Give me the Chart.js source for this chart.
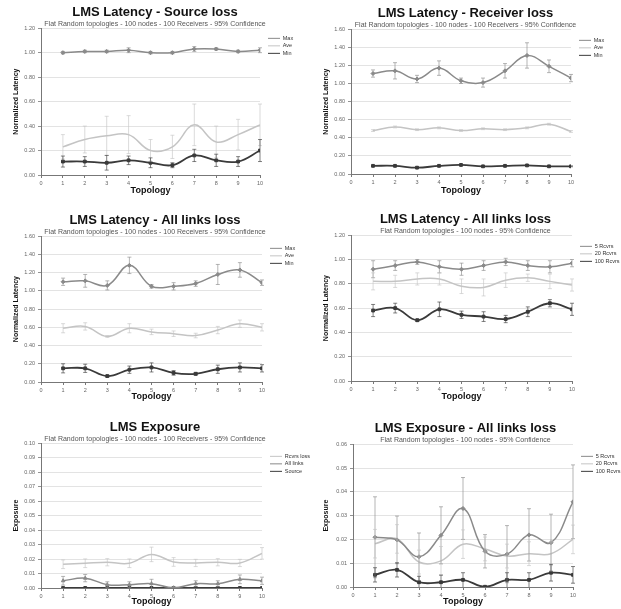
<!DOCTYPE html>
<html>
<head>
<meta charset="utf-8">
<script src="https://cdn.jsdelivr.net/npm/chart.js@4"></script>
<style>
body{margin:0;background:#fff;}
#wrap{position:relative;width:621px;height:609px;overflow:hidden;}
.p{position:absolute;}
</style>
</head>
<body>
<div id="wrap">
  <div class="p" style="left:0;top:0;width:310px;height:200px"><canvas id="c1"></canvas></div>
  <div class="p" style="left:310px;top:0;width:311px;height:200px"><canvas id="c2"></canvas></div>
  <div class="p" style="left:0;top:200px;width:310px;height:205px"><canvas id="c3"></canvas></div>
  <div class="p" style="left:310px;top:200px;width:311px;height:205px"><canvas id="c4"></canvas></div>
  <div class="p" style="left:0;top:400px;width:310px;height:209px"><canvas id="c5"></canvas></div>
  <div class="p" style="left:310px;top:400px;width:311px;height:209px"><canvas id="c6"></canvas></div>
</div>
<script>
// topology index on the x axis
const topology = [1, 2, 3, 4, 5, 6, 7, 8, 9, 10];

// LMS Latency - Source loss
const srcMax    = [1.00, 1.01, 1.01, 1.02, 1.00, 1.00, 1.03, 1.03, 1.01, 1.02];
const srcMaxErr = [0.01, 0.01, 0.01, 0.02, 0.01, 0.01, 0.02, 0.01, 0.01, 0.02];
const srcAve    = [0.23, 0.29, 0.32, 0.33, 0.20, 0.23, 0.41, 0.27, 0.33, 0.41];
const srcAveErr = [0.10, 0.11, 0.16, 0.155, 0.09, 0.095, 0.17, 0.13, 0.125, 0.17];
const srcMin    = [0.11, 0.11, 0.10, 0.12, 0.10, 0.08, 0.16, 0.12, 0.11, 0.20];
const srcMinErr = [0.045, 0.04, 0.06, 0.035, 0.04, 0.02, 0.05, 0.05, 0.04, 0.09];

// LMS Latency - Receiver loss
const rcvMax    = [1.11, 1.14, 1.05, 1.17, 1.03, 1.01, 1.14, 1.31, 1.19, 1.06];
const rcvMaxErr = [0.04, 0.09, 0.04, 0.08, 0.03, 0.05, 0.08, 0.14, 0.07, 0.04];
const rcvAve    = [0.48, 0.52, 0.49, 0.51, 0.48, 0.50, 0.49, 0.51, 0.55, 0.47];
const rcvAveErr = [0.01, 0.01, 0.01, 0.01, 0.01, 0.01, 0.01, 0.01, 0.01, 0.01];
const rcvMin    = [0.09, 0.09, 0.07, 0.09, 0.10, 0.085, 0.09, 0.095, 0.085, 0.085];
const rcvMinErr = [0.005, 0.005, 0.005, 0.005, 0.005, 0.005, 0.005, 0.005, 0.005, 0.005];

// LMS Latency - All links loss (Max/Ave/Min)
const allMax    = [1.10, 1.11, 1.06, 1.28, 1.05, 1.05, 1.08, 1.18, 1.23, 1.09];
const allMaxErr = [0.04, 0.07, 0.05, 0.09, 0.02, 0.04, 0.03, 0.11, 0.08, 0.03];
const allAve    = [0.59, 0.61, 0.50, 0.59, 0.55, 0.53, 0.51, 0.57, 0.64, 0.60];
const allAveErr = [0.05, 0.04, 0.01, 0.05, 0.03, 0.03, 0.025, 0.04, 0.04, 0.04];
const allMin    = [0.15, 0.15, 0.065, 0.135, 0.16, 0.10, 0.09, 0.14, 0.16, 0.15];
const allMinErr = [0.05, 0.045, 0.01, 0.04, 0.05, 0.025, 0.015, 0.045, 0.05, 0.04];

// LMS Latency - All links loss (receiver counts)
const lat5      = [0.92, 0.95, 0.98, 0.94, 0.92, 0.95, 0.98, 0.95, 0.94, 0.97];
const lat5Err   = [0.07, 0.04, 0.02, 0.05, 0.05, 0.04, 0.03, 0.04, 0.05, 0.03];
const lat20     = [0.82, 0.82, 0.84, 0.84, 0.78, 0.77, 0.83, 0.85, 0.82, 0.79];
const lat20Err  = [0.07, 0.05, 0.05, 0.05, 0.06, 0.07, 0.06, 0.03, 0.06, 0.05];
const lat100    = [0.58, 0.60, 0.50, 0.59, 0.545, 0.53, 0.51, 0.57, 0.64, 0.59];
const lat100Err = [0.05, 0.04, 0.01, 0.06, 0.03, 0.04, 0.03, 0.04, 0.03, 0.05];

// LMS Exposure
const expRcv    = [0.0164, 0.0171, 0.0178, 0.0171, 0.0232, 0.0180, 0.0173, 0.0178, 0.0173, 0.0239];
const expRcvErr = [0.003, 0.003, 0.0025, 0.003, 0.005, 0.003, 0.0025, 0.0025, 0.0025, 0.004];
const expAll    = [0.0050, 0.0068, 0.0023, 0.0023, 0.0030, 0.0002, 0.0030, 0.0030, 0.0060, 0.0050];
const expAllErr = [0.003, 0.0025, 0.002, 0.002, 0.003, 0.0005, 0.002, 0.002, 0.003, 0.0025];
const expSrc    = [0, 0, 0, 0, 0, 0, 0, 0, 0, 0];

// LMS Exposure - All links loss
const exp5      = [0.0209, 0.0198, 0.0127, 0.0217, 0.0330, 0.0150, 0.0138, 0.0219, 0.0186, 0.0358];
const exp5Err   = [0.017, 0.010, 0.010, 0.012, 0.013, 0.007, 0.012, 0.011, 0.012, 0.0155];
const exp20     = [0.0182, 0.0202, 0.0105, 0.0110, 0.0180, 0.0160, 0.0130, 0.0140, 0.0140, 0.0200];
const exp20Err  = [0.006, 0.006, 0.005, 0.006, 0.006, 0.005, 0.005, 0.005, 0.005, 0.006];
const exp100    = [0.0051, 0.0072, 0.0020, 0.0020, 0.0030, 0.0001, 0.0030, 0.0030, 0.0060, 0.0051];
const exp100Err = [0.003, 0.003, 0.0025, 0.003, 0.003, 0, 0.003, 0.003, 0.0035, 0.0035];

const FONT = '"Liberation Sans", Arial, sans-serif';
const GRAY = '#8a8a8a', LIGHT = '#c4c4c4', DARK = '#3a3a3a';

function pts(vals) {
  return topology.map((t, i) => ({x: t, y: vals[i]}));
}

function series(label, vals, errs, color, marker, width) {
  return {
    label: label,
    data: pts(vals),
    errors: errs,
    borderColor: color,
    backgroundColor: color,
    borderWidth: width,
    tension: 0.4,
    pointStyle: marker || 'circle',
    pointRadius: marker ? 2 : 0,
    pointBorderWidth: 1
  };
}

// vertical error bars, drawn with the chart's own scales
const errorBars = {
  id: 'errorBars',
  afterDatasetsDraw(chart) {
    const ctx = chart.ctx, xs = chart.scales.x, ys = chart.scales.y, a = chart.chartArea;
    chart.data.datasets.forEach(ds => {
      if (!ds.errors) return;
      ctx.save();
      ctx.strokeStyle = ds.borderColor;
      ctx.globalAlpha = 0.8;
      ctx.lineWidth = 0.8;
      ds.data.forEach((p, i) => {
        const e = ds.errors[i];
        if (!e) return;
        const x = xs.getPixelForValue(p.x);
        const y1 = Math.max(a.top, ys.getPixelForValue(p.y + e));
        const y2 = Math.min(a.bottom, ys.getPixelForValue(p.y - e));
        ctx.beginPath();
        ctx.moveTo(x, y1); ctx.lineTo(x, y2);
        ctx.moveTo(x - 2, y1); ctx.lineTo(x + 2, y1);
        if (y2 < a.bottom) { ctx.moveTo(x - 2, y2); ctx.lineTo(x + 2, y2); }
        ctx.stroke();
      });
      ctx.restore();
    });
  }
};

// keep the legend column at a fixed width, like the Excel charts
const legendWidth = {
  id: 'legendWidth',
  beforeLayout(chart, args, opts) {
    const lg = chart.legend;
    if (lg && !lg._fixedW) {
      const fit = lg.fit;
      lg.fit = function () { fit.call(this); this.width = opts.width; };
      lg._fixedW = true;
    }
  }
};

function makeChart(id, o) {
  return new Chart(document.getElementById(id), {
    type: 'line',
    data: {datasets: o.datasets},
    plugins: [errorBars, legendWidth],
    options: {
      responsive: true,
      maintainAspectRatio: false,
      animation: false,
      layout: {padding: 0},
      plugins: {
        title: {
          display: true, text: o.title, color: '#111',
          font: {family: FONT, size: 13, weight: 'bold'},
          padding: {top: o.titleY - 7.8, bottom: 0}
        },
        subtitle: {
          display: true, text: o.subtitle, color: '#555',
          font: {family: FONT, size: 7},
          padding: {top: 0, bottom: Math.max(0, o.plotTop - (o.titleY - 7.8) - 15.6 - 8.4)}
        },
        legend: {
          position: 'right', align: 'start', fullSize: false,
          title: {display: true, text: '', font: {size: 2}, padding: {top: o.legendOff, bottom: 0}},
          labels: {
            color: '#333', font: {family: FONT, size: 5.5},
            usePointStyle: true, pointStyle: 'line', pointStyleWidth: 12,
            boxHeight: 6, padding: 2
          }
        },
        legendWidth: {width: o.legendW},
        tooltip: {enabled: false}
      },
      scales: {
        x: {
          type: 'linear', min: 0, max: 10,
          ticks: {stepSize: 1, color: '#666', font: {family: FONT, size: 5.5}, padding: 2},
          grid: {drawOnChartArea: false, drawTicks: true, tickLength: 3, color: '#777'},
          border: {color: '#777'},
          title: {display: true, text: 'Topology', color: '#111',
                  font: {family: FONT, size: 9, weight: 'bold'},
                  padding: {top: 0, bottom: o.xTitleOff - 5.4}},
          afterFit: s => { s.height = o.H - o.plotBottom; }
        },
        y: {
          min: 0, max: o.yMax,
          ticks: {stepSize: o.yStep, color: '#666', font: {family: FONT, size: 5.5}, padding: 3,
                  callback: v => v.toFixed(2)},
          grid: {color: '#dcdcdc', lineWidth: 0.8, drawTicks: true, tickLength: 3, tickColor: '#777'},
          border: {color: '#777'},
          title: {display: true, text: o.yTitle, color: '#111',
                  font: {family: FONT, size: 7, weight: 'bold'},
                  padding: {top: 16 - 4.2, bottom: 0}},
          afterFit: s => { s.width = o.plotLeft; }
        },
        // empty gap between the plot and the legend
        gap: {
          position: 'right', display: true, min: 0, max: 1,
          ticks: {display: false}, grid: {display: false, drawTicks: false}, border: {display: false},
          afterFit: s => { s.width = 6; }
        }
      }
    }
  });
}

const sub100 = 'Flat Random topologies - 100 nodes - 100 Receivers - 95% Confidence';
const subN = 'Flat Random topologies - 100 nodes - 95% Confidence';

makeChart('c1', {
  title: 'LMS Latency - Source loss', subtitle: sub100, yTitle: 'Normalized Latency',
  yMax: 1.2, yStep: 0.2, H: 200, titleY: 12, plotTop: 28, plotBottom: 175, plotLeft: 41,
  legendW: 44, legendOff: 3, xTitleOff: 9,
  datasets: [
    series('Max', srcMax, srcMaxErr, GRAY, 'rectRot', 1.5),
    series('Ave', srcAve, srcAveErr, LIGHT, null, 1.5),
    series('Min', srcMin, srcMinErr, DARK, 'rect', 1.8)
  ]
});

makeChart('c2', {
  title: 'LMS Latency - Receiver loss', subtitle: sub100, yTitle: 'Normalized Latency',
  yMax: 1.6, yStep: 0.2, H: 200, titleY: 13, plotTop: 28, plotBottom: 174, plotLeft: 41,
  legendW: 44, legendOff: 4, xTitleOff: 9,
  datasets: [
    series('Max', rcvMax, rcvMaxErr, GRAY, 'rectRot', 1.5),
    series('Ave', rcvAve, rcvAveErr, LIGHT, null, 1.5),
    series('Min', rcvMin, rcvMinErr, DARK, 'rect', 1.8)
  ]
});

makeChart('c3', {
  title: 'LMS Latency - All links loss', subtitle: sub100, yTitle: 'Normalized Latency',
  yMax: 1.6, yStep: 0.2, H: 205, titleY: 20, plotTop: 35, plotBottom: 182, plotLeft: 41,
  legendW: 42, legendOff: 5, xTitleOff: 8,
  datasets: [
    series('Max', allMax, allMaxErr, GRAY, 'rectRot', 1.5),
    series('Ave', allAve, allAveErr, LIGHT, null, 1.5),
    series('Min', allMin, allMinErr, DARK, 'rect', 1.8)
  ]
});

makeChart('c4', {
  title: 'LMS Latency - All links loss', subtitle: subN, yTitle: 'Normalized Latency',
  yMax: 1.2, yStep: 0.2, H: 205, titleY: 19, plotTop: 34, plotBottom: 181, plotLeft: 41,
  legendW: 43, legendOff: 4, xTitleOff: 8,
  datasets: [
    series('5 Rcvrs', lat5, lat5Err, GRAY, 'rectRot', 1.5),
    series('20 Rcvrs', lat20, lat20Err, LIGHT, null, 1.5),
    series('100 Rcvrs', lat100, lat100Err, DARK, 'rect', 1.8)
  ]
});

makeChart('c5', {
  title: 'LMS Exposure', subtitle: sub100, yTitle: 'Exposure',
  yMax: 0.10, yStep: 0.01, H: 209, titleY: 27, plotTop: 42, plotBottom: 188, plotLeft: 41,
  legendW: 42, legendOff: 6, xTitleOff: 7,
  datasets: [
    series('Rcvrs loss', expRcv, expRcvErr, LIGHT, null, 1.5),
    series('All links', expAll, expAllErr, GRAY, 'triangle', 1.5),
    series('Source', expSrc, null, DARK, 'rect', 1.8)
  ]
});

makeChart('c6', {
  title: 'LMS Exposure - All links loss', subtitle: subN, yTitle: 'Exposure',
  yMax: 0.06, yStep: 0.01, H: 209, titleY: 28, plotTop: 42, plotBottom: 187, plotLeft: 43,
  legendW: 42, legendOff: 5, xTitleOff: 7,
  datasets: [
    series('5 Rcvrs', exp5, exp5Err, GRAY, 'rectRot', 1.5),
    series('20 Rcvrs', exp20, exp20Err, LIGHT, null, 1.5),
    series('100 Rcvrs', exp100, exp100Err, DARK, 'rect', 1.8)
  ]
});
</script>
</body>
</html>
